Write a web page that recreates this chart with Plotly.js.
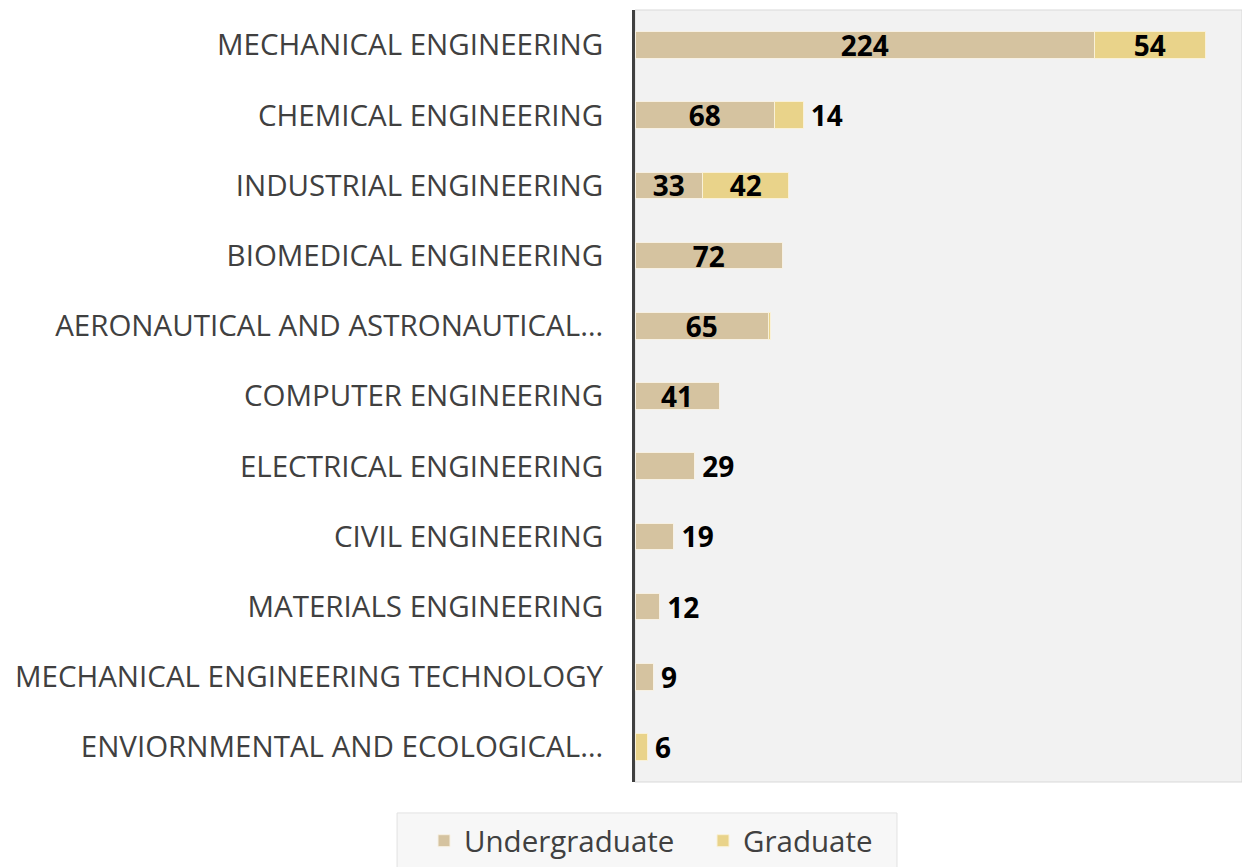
<!DOCTYPE html>
<html>
<head>
<meta charset="utf-8">
<script src="https://cdn.plot.ly/plotly-3.0.1.min.js"></script>
<style>html,body{margin:0;padding:0;background:#fff;}#chart{width:1242px;height:867px;}</style>
</head>
<body>
<div id="chart"></div>
<script>
const categories = [
  "MECHANICAL ENGINEERING",
  "CHEMICAL ENGINEERING",
  "INDUSTRIAL ENGINEERING",
  "BIOMEDICAL ENGINEERING",
  "AERONAUTICAL AND ASTRONAUTICAL…",
  "COMPUTER ENGINEERING",
  "ELECTRICAL ENGINEERING",
  "CIVIL ENGINEERING",
  "MATERIALS ENGINEERING",
  "MECHANICAL ENGINEERING TECHNOLOGY",
  "ENVIORNMENTAL AND ECOLOGICAL…"
];
const undergraduate = [224, 68, 33, 72, 65, 41, 29, 19, 12, 9, null];
const graduate      = [54, 14, 42, null, 1, null, null, null, null, null, 6];
const undergradLabelPos = ["inside","inside","inside","inside","inside","inside","outside","outside","outside","outside","none"];
const gradLabelPos      = ["inside","outside","inside","none","none","none","none","none","none","none","outside"];

const labelFont = {family: "Open Sans, sans-serif", size: 28, color: "#000000", weight: "bold"};

function labelText(v, pos) {
  if (v == null || pos === "none") return "";
  return pos === "outside" ? "\u2009<b>" + v + "</b>" : "<b>" + v + "</b>";
}

const traces = [
  {
    type: "bar", orientation: "h", name: "Undergraduate",
    y: categories, x: undergraduate,
    text: undergraduate.map((v, i) => labelText(v, undergradLabelPos[i])),
    textposition: undergradLabelPos, textangle: 0,
    insidetextanchor: "middle",
    textfont: labelFont, insidetextfont: labelFont, outsidetextfont: labelFont,
    constraintext: "none", cliponaxis: false,
    marker: {color: "#d5c3a0", line: {color: "#f7f1e4", width: 1}},
    hoverinfo: "skip"
  },
  {
    type: "bar", orientation: "h", name: "Graduate",
    y: categories, x: graduate,
    text: graduate.map((v, i) => labelText(v, gradLabelPos[i])),
    textposition: gradLabelPos, textangle: 0,
    insidetextanchor: "middle",
    textfont: labelFont, insidetextfont: labelFont, outsidetextfont: labelFont,
    constraintext: "none", cliponaxis: false,
    marker: {color: "#e9d38a", line: {color: "#f9f1d8", width: 1}},
    hoverinfo: "skip"
  }
];

const layout = {
  width: 1242, height: 867,
  barmode: "stack",
  bargap: 0.62,
  paper_bgcolor: "#ffffff",
  plot_bgcolor: "#f2f2f2",
  margin: {l: 635, r: 0, t: 10, b: 84, pad: 0},
  font: {family: "Open Sans, sans-serif", color: "#404040"},
  xaxis: {
    range: [0, 296], showgrid: false, zeroline: false, showticklabels: false,
    showline: false, ticks: ""
  },
  yaxis: {
    type: "category", autorange: "reversed",
    showgrid: false, zeroline: false,
    showline: true, linecolor: "#404040", linewidth: 3,
    ticks: "outside", ticklen: 23, tickcolor: "rgba(0,0,0,0)",
    tickfont: {family: "Open Sans, sans-serif", size: 29.5, color: "#404040"}
  },
  showlegend: true,
  legend: {
    orientation: "h",
    x: -0.3476, xanchor: "left",
    y: -0.043, yanchor: "top",
    bgcolor: "rgba(0,0,0,0)", borderwidth: 0,
    font: {family: "Open Sans, sans-serif", size: 29.5, color: "#404040"},
    traceorder: "normal",
    entrywidth: 234
  },
  shapes: [
    {
      type: "rect", xref: "paper", yref: "paper", x0: 0, x1: 1, y0: 0, y1: 1,
      line: {color: "#d9d9d9", width: 1}, layer: "below"
    },
    {
      type: "rect", xref: "paper", yref: "paper", x0: -0.392, x1: 0.4316, y0: -0.115, y1: -0.0401,
      fillcolor: "#f7f7f7", line: {color: "#e2e2e2", width: 1}, layer: "below"
    }
  ]
};

Plotly.newPlot("chart", traces, layout, {displayModeBar: false, staticPlot: true});
</script>
</body>
</html>
